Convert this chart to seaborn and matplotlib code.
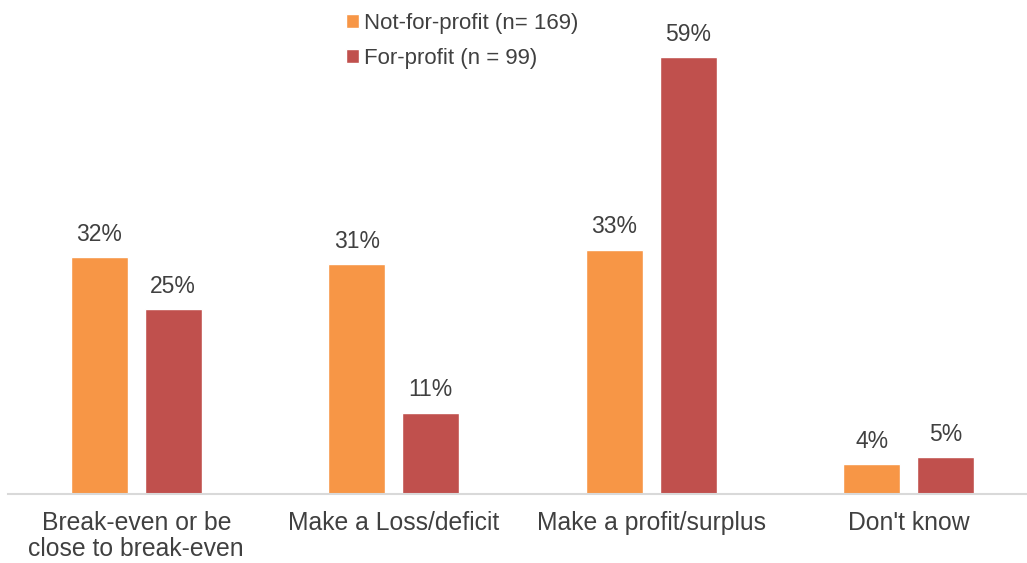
import matplotlib
matplotlib.use("Agg")
import matplotlib.pyplot as plt
import seaborn as sns
import pandas as pd

categories = ["Break-even or be\nclose to break-even", "Make a Loss/deficit",
              "Make a profit/surplus", "Don't know"]
series_names = ["Not-for-profit (n= 169)", "For-profit (n = 99)"]
not_for_profit = [32, 31, 33, 4]
for_profit = [25, 11, 59, 5]
colors = ["#F79646", "#C0504D"]

df = pd.DataFrame({
    "category": categories * 2,
    "group": [series_names[0]] * 4 + [series_names[1]] * 4,
    "value": not_for_profit + for_profit,
})

sns.set_theme(style="white")
plt.rcParams["font.family"] = ["Liberation Sans", "DejaVu Sans"]

fig = plt.figure(figsize=(10.27, 5.63), dpi=100)
ax = fig.add_axes([7.5 / 1027, 69 / 563, 1030 / 1027, 494 / 563])

sns.barplot(data=df, x="category", y="value", hue="group", order=categories,
            hue_order=series_names, palette=colors, width=0.575, gap=0.23,
            saturation=1, ax=ax, legend=True)

ax.set_ylim(0, 66.7)
ax.set_xlim(-0.5, 3.5)
ax.set_xlabel("")
ax.set_ylabel("")
ax.set_yticks([])
for s in ["top", "right", "left"]:
    ax.spines[s].set_visible(False)
ax.spines["bottom"].set_color("#d9d9d9")
ax.spines["bottom"].set_linewidth(1.5)
ax.tick_params(axis="x", length=0, pad=12, labelsize=17.8, labelcolor="#404040")
for lbl in ax.get_xticklabels():
    lbl.set_linespacing(1.1)

for cont in ax.containers:
    labels = [f"{v:.0f}%" for v in cont.datavalues]
    ax.bar_label(cont, labels=labels, padding=8, fontsize=16.5, color="#404040")

leg = ax.legend(loc="upper left", bbox_to_anchor=(0.317, 1.012),
                bbox_transform=fig.transFigure, frameon=False, fontsize=16,
                handlelength=0.6, handleheight=0.6, handletextpad=0.25,
                labelspacing=0.62, labelcolor="#404040")

fig.savefig("out.png", dpi=100)
